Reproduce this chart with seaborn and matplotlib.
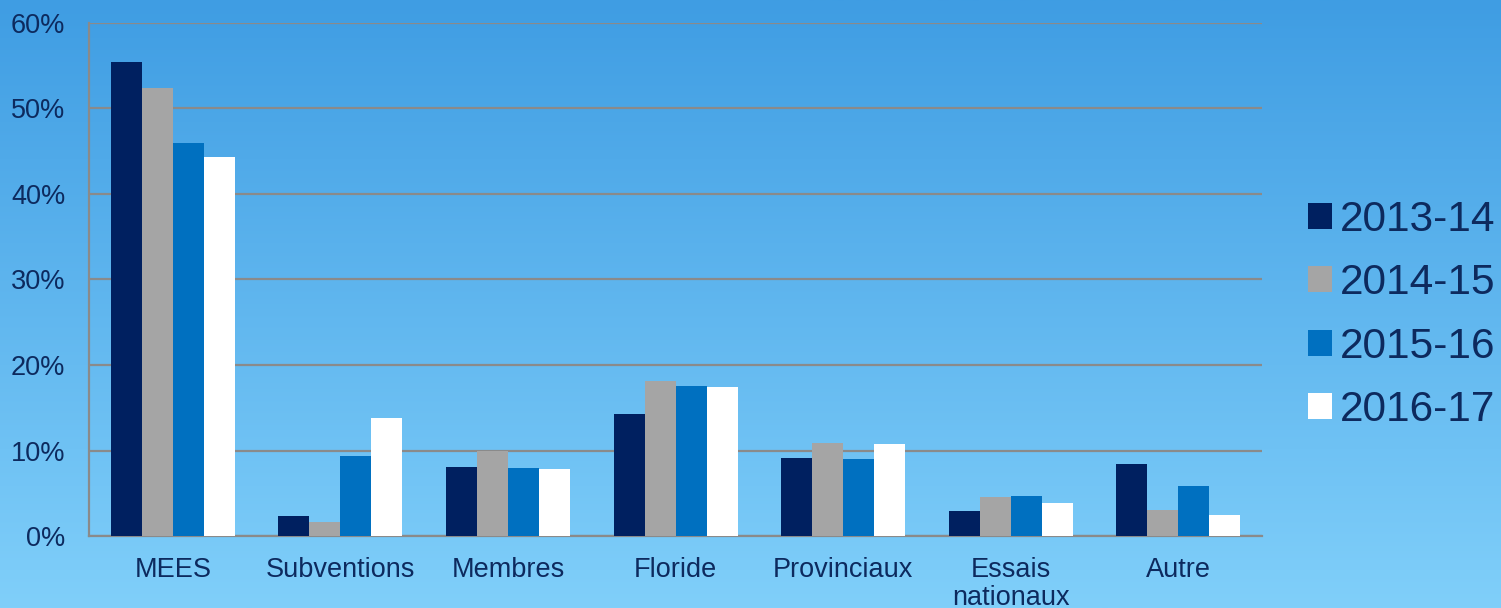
import numpy as np
import pandas as pd
import seaborn as sns
import matplotlib.pyplot as plt
from matplotlib.colors import LinearSegmentedColormap
from matplotlib.patches import Patch
from matplotlib.ticker import PercentFormatter

categories = ["MEES", "Subventions", "Membres", "Floride", "Provinciaux",
              "Essais\nnationaux", "Autre"]
years = ["2013-14", "2014-15", "2015-16", "2016-17"]
v_2013 = [55.4, 2.3, 8.1, 14.3, 9.1, 2.9, 8.4]
v_2014 = [52.4, 1.6, 10.0, 18.1, 10.9, 4.6, 3.1]
v_2015 = [46.0, 9.4, 8.0, 17.5, 9.0, 4.7, 5.9]
v_2016 = [44.3, 13.8, 7.8, 17.4, 10.8, 3.9, 2.4]
colors = ["#002060", "#a5a5a5", "#0070c0", "#ffffff"]

df = pd.DataFrame({
    "cat": categories * 4,
    "year": np.repeat(years, len(categories)),
    "val": v_2013 + v_2014 + v_2015 + v_2016,
})

sns.set_style("white")
plt.rcParams["font.family"] = ["Liberation Sans", "DejaVu Sans"]
txt = "#0d2a5e"
grid_c = "#8a8a8a"

fig = plt.figure(figsize=(15.01, 6.08), dpi=100)

# gradient background
bg = fig.add_axes([0, 0, 1, 1], zorder=0)
cmap = LinearSegmentedColormap.from_list("bg", ["#3f9de3", "#80cffa"])
bg.imshow(np.linspace(0, 1, 256).reshape(-1, 1), aspect="auto", cmap=cmap,
          extent=[0, 1, 0, 1])
bg.set_axis_off()

ax = fig.add_axes([0.0593, 0.1184, 0.7815, 0.8438], zorder=1)
ax.patch.set_alpha(0)
sns.barplot(data=df, x="cat", y="val", hue="year", palette=colors,
            width=0.74, saturation=1, edgecolor="none", linewidth=0,
            legend=False, ax=ax, zorder=3)

ax.set_ylim(0, 60)
ax.set_xlim(-0.5, len(categories) - 0.5)
ax.set_yticks(range(0, 61, 10))
ax.yaxis.set_major_formatter(PercentFormatter(decimals=0))
ax.yaxis.grid(True, color=grid_c, linewidth=1.6, zorder=1)
ax.set_axisbelow(True)
ax.set_xlabel("")
ax.set_ylabel("")

for s in ["top", "right"]:
    ax.spines[s].set_visible(False)
for s in ["left", "bottom"]:
    ax.spines[s].set_color(grid_c)
    ax.spines[s].set_linewidth(1.6)

ax.set_xticks(np.arange(-0.5, len(categories), 1), minor=True)
ax.tick_params(axis="x", which="major", length=0, labelsize=19.5,
               labelcolor=txt, pad=15)
ax.tick_params(axis="x", which="minor", length=6, width=1.6, color=grid_c,
               direction="out")
ax.tick_params(axis="y", length=6, width=1.6, color=grid_c, labelsize=19.5,
               labelcolor=txt, pad=11)
for lab in ax.get_xticklabels():
    lab.set_verticalalignment("top")
    lab.set_linespacing(1.13)

handles = [Patch(facecolor=c, edgecolor="none") for c in colors]
leg = fig.legend(handles, years, loc="center left",
                 bbox_to_anchor=(0.857, 0.482), frameon=False,
                 fontsize=30.5, handlelength=0.57, handleheight=0.57,
                 handletextpad=0.2, labelspacing=0.55, borderpad=0)
for t in leg.get_texts():
    t.set_color(txt)

fig.savefig("out.png", dpi=100)
